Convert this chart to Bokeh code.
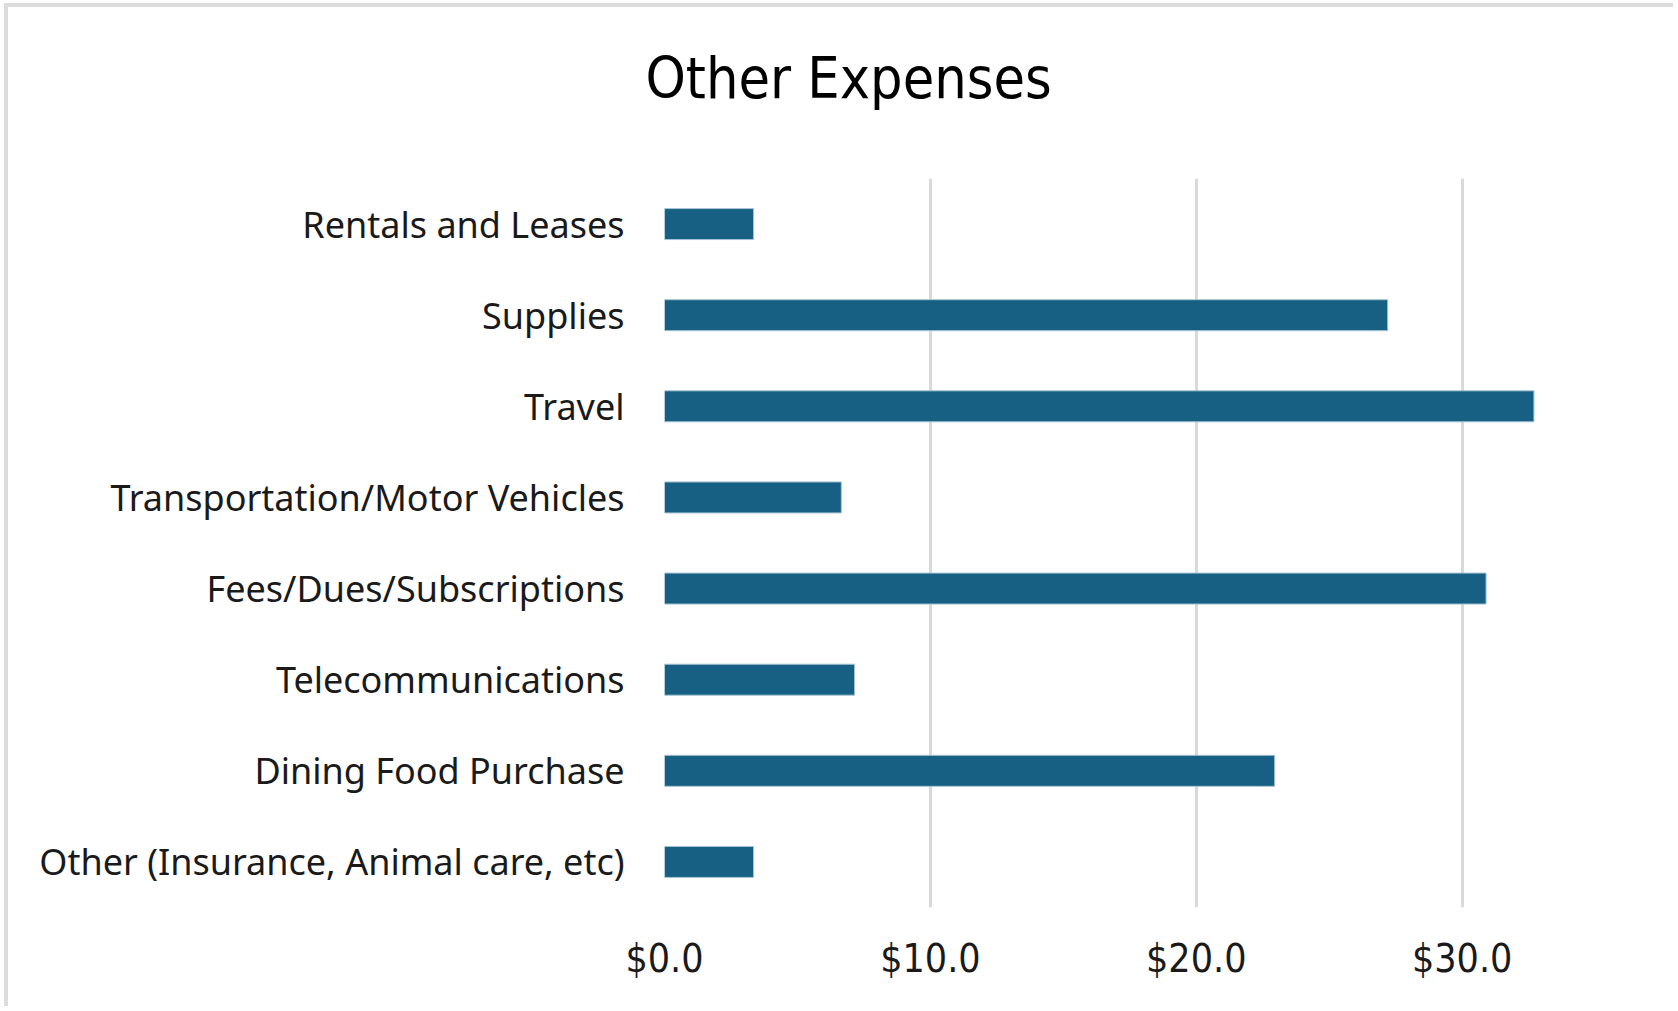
from bokeh.plotting import figure
from bokeh.models import FactorRange, Range1d, FixedTicker, NumeralTickFormatter, Title
from bokeh.embed import file_html
from bokeh.resources import INLINE

categories = [
    "Rentals and Leases",
    "Supplies",
    "Travel",
    "Transportation/Motor Vehicles",
    "Fees/Dues/Subscriptions",
    "Telecommunications",
    "Dining Food Purchase",
    "Other (Insurance, Animal care, etc)",
]
values = [3.35, 27.2, 32.7, 6.65, 30.9, 7.15, 22.95, 3.35]
tick_values = [0, 10, 20, 30]
title_text = "Other Expenses"

factors = list(reversed(categories))
NARROW = "DejaVu Sans Condensed"

p = figure(
    width=1669, height=1003,
    y_range=FactorRange(factors=factors, range_padding=0),
    x_range=Range1d(0, 38.1),
    output_backend="svg", toolbar_location=None,
    min_border_left=656, min_border_right=0,
    min_border_top=171, min_border_bottom=103,
)
p.styles = {
    "margin-left": "4px", "margin-top": "3px",
    "border-left": "4px solid #dcdcdc", "border-top": "4px solid #dcdcdc",
}
p.title = None
spacer = Title(text=" ", text_font_size="45px")
p.add_layout(spacer, "above")
t = Title(text=title_text, align="left", offset=-19,
          text_font=NARROW, text_font_size="57px",
          text_font_style="normal", text_color="#000000")
p.add_layout(t, "above")

p.hbar(y=categories, right=values, left=0, height=0.34,
       fill_color="#176083", line_color="#a6c4d3", line_width=1)

p.outline_line_color = None
p.background_fill_color = "white"
p.border_fill_color = "white"

p.ygrid.grid_line_color = None
p.xgrid.ticker = FixedTicker(ticks=tick_values)
p.xgrid.grid_line_color = "#d9d9d9"
p.xgrid.grid_line_width = 3

p.xaxis.ticker = FixedTicker(ticks=tick_values)
p.xaxis.formatter = NumeralTickFormatter(format="$0.0")
p.xaxis.axis_line_color = None
p.xaxis.major_tick_line_color = None
p.xaxis.minor_tick_line_color = None
p.xaxis.major_label_text_font = NARROW
p.xaxis.major_label_text_font_size = "39px"
p.xaxis.major_label_text_color = "#1a1a1a"
p.xaxis.major_label_standoff = 22

p.yaxis.axis_line_color = None
p.yaxis.major_tick_line_color = None
p.yaxis.minor_tick_line_color = None
p.yaxis.major_label_text_font = "Noto Sans"
p.yaxis.major_label_text_font_size = "36px"
p.yaxis.major_label_text_color = "#1a1a1a"
p.yaxis.major_label_standoff = 34

open("out.html", "w").write(file_html(p, INLINE))
